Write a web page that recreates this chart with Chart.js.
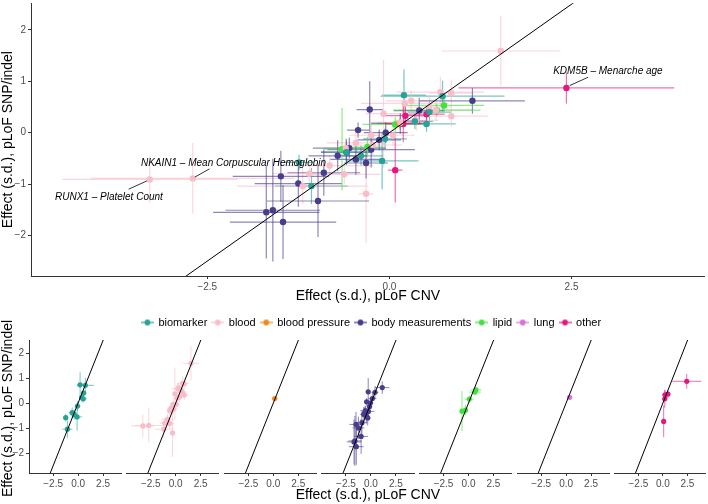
<!DOCTYPE html>
<html><head><meta charset="utf-8">
<script src="https://cdn.jsdelivr.net/npm/chart.js@4.4.0/dist/chart.umd.min.js"></script>
<style>
html,body{margin:0;padding:0;background:#fff;}
#wrap{position:relative;width:708px;height:504px;overflow:hidden;background:#fff;}
canvas{position:absolute;left:0;}
</style></head><body>
<div id="wrap">
<canvas id="main" width="708" height="310" style="top:0px"></canvas>
<canvas id="p0" width="708" height="189" style="top:315px"></canvas>
<canvas id="p1" width="708" height="189" style="top:315px"></canvas>
<canvas id="p2" width="708" height="189" style="top:315px"></canvas>
<canvas id="p3" width="708" height="189" style="top:315px"></canvas>
<canvas id="p4" width="708" height="189" style="top:315px"></canvas>
<canvas id="p5" width="708" height="189" style="top:315px"></canvas>
<canvas id="p6" width="708" height="189" style="top:315px"></canvas>
<canvas id="legend" width="708" height="60" style="top:312px"></canvas>
</div>
<script>
// ---------------- data ----------------
const categories = ['biomarker', 'blood', 'blood pressure', 'body measurements', 'lipid', 'lung', 'other'];
const colors = ['#26a297', '#f8bdc9', '#ef8b1e', '#483d8b', '#3fe43f', '#da70d6', '#e3187f'];

const biomarkerX    = [0.20, 0.73, 0.55, 0.51, 0.35, -0.06, -0.39, -0.10, -0.59, -1.07, -1.24];
const biomarkerY    = [0.73, 0.71, 0.40, 0.17, 0.22, -0.12, -0.45, -0.55, -0.38, -1.04, -0.58];
const biomarkerXErr = [0.30, 0.85, 0.30, 0.40, 0.25, 0.30, 0.30, 0.50, 0.35, 0.50, 0.20];
const biomarkerYErr = [0.50, 0.30, 0.20, 0.15, 0.15, 0.20, 0.20, 0.55, 0.20, 0.35, 0.15];

const bloodX    = [-3.29, -2.70, 1.53, -0.32, -0.08, 0.70, 0.85, 0.85, 0.64, 0.21, 0.37, -0.46, -0.23, -0.62, -0.82, -1.10, -1.19, 0.05, -0.60, 0.15, 0.55, -0.25, 0.30];
const bloodY    = [-0.91, -0.89, 1.59, -1.19, 0.37, 0.79, 0.77, 0.32, 0.44, 0.57, 0.24, -0.20, -0.24, -0.81, -0.64, -0.80, -1.04, -0.05, -0.30, 0.20, 0.50, -0.05, 0.62];
const bloodXErr = [1.20, 1.40, 0.81, 0.10, 0.25, 0.60, 0.30, 0.50, 0.50, 0.60, 0.30, 0.40, 0.40, 0.50, 0.60, 0.50, 0.90, 0.30, 0.30, 0.40, 0.30, 0.30, 0.35];
const bloodYErr = [0.45, 0.69, 0.68, 0.96, 1.05, 0.30, 0.25, 0.20, 0.20, 0.20, 0.20, 0.20, 0.20, 0.20, 0.20, 0.20, 0.35, 0.20, 0.20, 0.15, 0.20, 0.20, 0.20];

const bloodPressureX    = [0.14];
const bloodPressureY    = [0.18];
const bloodPressureXErr = [0.30];
const bloodPressureYErr = [0.10];

const bodyX    = [-1.69, -1.60, -1.46, -1.49, -1.25, -0.98, -0.90, -0.71, -0.59, -0.46, -0.32, -0.25, -0.14, -0.27, -0.43, 0.41, 1.14, -0.55, 0.15, -0.05];
const bodyY    = [-1.55, -1.51, -1.74, -0.85, -0.99, -1.33, -0.78, -0.45, -0.38, -0.52, -0.59, -0.33, -0.14, 0.45, 0.05, 0.43, 0.62, -0.30, 0.18, 0.00];
const bodyXErr = [0.73, 0.65, 0.73, 0.66, 0.60, 0.70, 0.50, 0.40, 0.35, 0.35, 0.30, 0.60, 0.30, 0.18, 0.15, 0.35, 0.72, 0.50, 0.40, 0.30];
const bodyYErr = [0.90, 1.00, 0.72, 0.50, 0.45, 0.70, 0.45, 0.30, 0.25, 0.30, 0.30, 0.35, 0.20, 0.55, 0.15, 0.25, 0.25, 0.20, 0.20, 0.20];

const lipidX    = [-0.65, -0.30, 0.08, 0.75, 0.65];
const lipidY    = [-0.32, -0.28, 0.16, 0.53, 0.44];
const lipidXErr = [0.25, 0.20, 0.45, 0.55, 0.60];
const lipidYErr = [0.80, 0.20, 0.15, 0.12, 0.12];

const lungX    = [0.35];
const lungY    = [0.23];
const lungXErr = [0.15];
const lungYErr = [0.08];

const otherX    = [2.43, 0.08, 0.22, 0.19, 0.51];
const otherY    = [0.87, -0.73, 0.33, 0.17, 0.36];
const otherXErr = [1.48, 0.10, 0.30, 0.25, 0.25];
const otherYErr = [0.30, 0.63, 0.20, 0.35, 0.15];

const xTickValues = [-2.5, 0, 2.5];
const xTickLabels = ['\u22122.5', '0.0', '2.5'];
const yTickValues = [-2, -1, 0, 1, 2];
const yTickLabels = ['\u22122', '\u22121', '0', '1', '2'];
const xRange = [-4.92, 4.33];
const yRange = [-2.79, 2.52];
const identityLineX = [-6, 6];
const identityLineY = [-6, 6];

const xTitle = 'Effect (s.d.), pLoF CNV';
const yTitle = 'Effect (s.d.), pLoF SNP/indel';

const labelTexts = ['NKAIN1 \u2013 Mean Corpuscular Hemoglobin', 'RUNX1 \u2013 Platelet Count', 'KDM5B \u2013 Menarche age'];
const labelAt    = [[-2.14, -0.59], [-3.85, -1.25], [3.0, 1.19]];
const leaderFrom = [[-2.67, -0.865], [-3.58, -1.10], [2.475, 0.917]];
const leaderTo   = [[-2.47, -0.705], [-3.33, -0.94], [2.73, 1.08]];

// ---------------- build ----------------
const series = [
  {x: biomarkerX, y: biomarkerY, xe: biomarkerXErr, ye: biomarkerYErr},
  {x: bloodX, y: bloodY, xe: bloodXErr, ye: bloodYErr},
  {x: bloodPressureX, y: bloodPressureY, xe: bloodPressureXErr, ye: bloodPressureYErr},
  {x: bodyX, y: bodyY, xe: bodyXErr, ye: bodyYErr},
  {x: lipidX, y: lipidY, xe: lipidXErr, ye: lipidYErr},
  {x: lungX, y: lungY, xe: lungXErr, ye: lungYErr},
  {x: otherX, y: otherY, xe: otherXErr, ye: otherYErr}
];

const FONT = "'Liberation Sans', Arial, Helvetica, sans-serif";
Chart.defaults.font.family = FONT;
Chart.defaults.animation = false;

function rgba(hex, a) {
  const n = parseInt(hex.slice(1), 16);
  return `rgba(${(n >> 16) & 255},${(n >> 8) & 255},${n & 255},${a})`;
}

function pointSet(i, r) {
  const s = series[i];
  return {
    type: 'scatter', label: categories[i],
    data: s.x.map((v, j) => ({x: v, y: s.y[j], xe: s.xe[j], ye: s.ye[j]})),
    backgroundColor: colors[i], borderWidth: 0, pointRadius: r, pointHoverRadius: r,
    errColor: rgba(colors[i], 0.62), order: 1
  };
}
function lineSet() {
  return {
    type: 'line', data: identityLineX.map((v, j) => ({x: v, y: identityLineY[j]})),
    borderColor: '#000', borderWidth: 1, pointRadius: 0, fill: false, order: 0
  };
}

function errorBarsPlugin(lw) {
  return {
    id: 'errorBars',
    beforeDatasetsDraw(chart) {
      const {ctx, chartArea: a} = chart;
      const xs = chart.scales.x, ys = chart.scales.y;
      ctx.save();
      ctx.beginPath(); ctx.rect(a.left, a.top, a.right - a.left, a.bottom - a.top); ctx.clip();
      ctx.lineWidth = lw; ctx.lineCap = 'butt';
      chart.data.datasets.forEach(ds => {
        if (!ds.errColor) return;
        ctx.strokeStyle = ds.errColor;
        ds.data.forEach(p => {
          const px = xs.getPixelForValue(p.x), py = ys.getPixelForValue(p.y);
          ctx.beginPath();
          ctx.moveTo(xs.getPixelForValue(p.x - p.xe), py);
          ctx.lineTo(xs.getPixelForValue(p.x + p.xe), py);
          ctx.stroke();
          ctx.beginPath();
          ctx.moveTo(px, ys.getPixelForValue(p.y - p.ye));
          ctx.lineTo(px, ys.getPixelForValue(p.y + p.ye));
          ctx.stroke();
        });
      });
      ctx.restore();
    }
  };
}

const annotatePlugin = {
  id: 'annotate',
  afterDatasetsDraw(chart) {
    const {ctx} = chart;
    const xs = chart.scales.x, ys = chart.scales.y;
    ctx.save();
    ctx.strokeStyle = '#000'; ctx.lineWidth = 0.8;
    ctx.fillStyle = '#000';
    ctx.font = 'italic 10px ' + FONT;
    ctx.textAlign = 'center'; ctx.textBaseline = 'middle';
    labelTexts.forEach((t, i) => {
      ctx.beginPath();
      ctx.moveTo(xs.getPixelForValue(leaderFrom[i][0]), ys.getPixelForValue(leaderFrom[i][1]));
      ctx.lineTo(xs.getPixelForValue(leaderTo[i][0]), ys.getPixelForValue(leaderTo[i][1]));
      ctx.stroke();
      ctx.fillText(t, xs.getPixelForValue(labelAt[i][0]), ys.getPixelForValue(labelAt[i][1]));
    });
    ctx.restore();
  }
};

function xScale(h, showTitle) {
  return {
    type: 'linear', min: xRange[0], max: xRange[1],
    afterBuildTicks: s => { s.ticks = xTickValues.map(v => ({value: v})); },
    afterFit: s => { s.height = h; s.paddingLeft = 0; s.paddingRight = 0; s.paddingTop = 0; s.paddingBottom = 0; },
    ticks: {callback: (v, i) => xTickLabels[i], color: '#4d4d4d', font: {size: 10}, padding: 2, maxRotation: 0, autoSkip: false},
    grid: {display: true, drawOnChartArea: false, drawTicks: true, tickLength: 3, color: '#333', lineWidth: 1},
    border: {display: true, color: '#333', width: 1},
    title: {display: showTitle, text: xTitle, color: '#000', font: {size: 14}, padding: {top: 0, bottom: 5}}
  };
}
function yScale(w, showTitle, show) {
  return {
    type: 'linear', min: yRange[0], max: yRange[1], display: show,
    afterBuildTicks: s => { s.ticks = yTickValues.map(v => ({value: v})); },
    afterFit: s => { s.width = show ? w : 0; s.paddingLeft = 0; s.paddingRight = 0; s.paddingTop = 0; s.paddingBottom = 0; },
    ticks: {callback: (v, i) => yTickLabels[i], color: '#4d4d4d', font: {size: 10}, padding: 2, autoSkip: false},
    grid: {display: true, drawOnChartArea: false, drawTicks: true, tickLength: 3, color: '#333', lineWidth: 1},
    border: {display: true, color: '#333', width: 1},
    title: {display: showTitle, text: yTitle, color: '#000', font: {size: 14, lineHeight: 1.2}, padding: {top: 0, bottom: 0}}
  };
}

// ---------------- main panel ----------------
new Chart(document.getElementById('main'), {
  type: 'scatter',
  data: {datasets: [lineSet(), ...series.map((s, i) => pointSet(i, 3.2))]},
  options: {
    responsive: false, devicePixelRatio: 1, animation: false,
    layout: {padding: {left: 0, right: 2, top: 0, bottom: 0}},
    plugins: {legend: {display: false}, tooltip: {enabled: false}},
    scales: {x: xScale(34, true), y: yScale(31, true, true)}
  },
  plugins: [errorBarsPlugin(1.2), annotatePlugin]
});

// ---------------- legend ----------------
function keyGlyph(color) {
  const c = document.createElement('canvas');
  c.width = 13; c.height = 8;
  const g = c.getContext('2d');
  g.strokeStyle = color; g.lineWidth = 1.2;
  g.beginPath(); g.moveTo(0, 4); g.lineTo(13, 4); g.stroke();
  g.fillStyle = color;
  g.beginPath(); g.arc(6.5, 4, 2.9, 0, Math.PI * 2); g.fill();
  return c;
}
const glyphs = colors.map(keyGlyph);
new Chart(document.getElementById('legend'), {
  type: 'scatter',
  data: {datasets: categories.map((c, i) => ({label: c, data: [], backgroundColor: colors[i]}))},
  options: {
    responsive: false, devicePixelRatio: 1, animation: false,
    layout: {padding: {left: 35, right: 0, top: 0, bottom: 0}},
    scales: {x: {display: false}, y: {display: false}},
    plugins: {
      tooltip: {enabled: false},
      legend: {
        position: 'top',
        labels: {
          usePointStyle: true, boxWidth: 12, boxHeight: 8, padding: 5, color: '#000', font: {size: 11},
          generateLabels: () => categories.map((c, i) => ({
            text: c, pointStyle: glyphs[i], fillStyle: colors[i], strokeStyle: colors[i],
            lineWidth: 0, hidden: false, datasetIndex: i, fontColor: '#000'
          }))
        }
      }
    }
  }
});

// ---------------- small multiples ----------------
const panelStep = 97.6, panelW = 92.3, panel0 = 29;
function textPlugin(kind) {
  return {
    id: 'facetText' + kind,
    afterDraw(chart) {
      const {ctx, chartArea: a} = chart;
      ctx.save();
      ctx.fillStyle = '#000';
      ctx.font = '14px ' + FONT;
      ctx.textAlign = 'center'; ctx.textBaseline = 'middle';
      if (kind === 'x') {
        ctx.fillText(xTitle, (a.left + a.right) / 2, chart.height - 9);
      } else {
        ctx.translate(8.4, (a.top + a.bottom) / 2 + 2);
        ctx.rotate(-Math.PI / 2);
        ctx.fillText(yTitle, 0, 0);
      }
      ctx.restore();
    }
  };
}
series.forEach((s, k) => {
  const left = panel0 + k * panelStep;
  const right = 708 - (left + panelW);
  const plugins = [errorBarsPlugin(1.0)];
  if (k === 0) plugins.push(textPlugin('y'));
  if (k === 3) plugins.push(textPlugin('x'));
  new Chart(document.getElementById('p' + k), {
    type: 'scatter',
    data: {datasets: [lineSet(), pointSet(k, 2.6)]},
    options: {
      responsive: false, devicePixelRatio: 1, animation: false,
      layout: {padding: {left: k === 0 ? 0 : left, right: right, top: 25, bottom: 0}},
      plugins: {legend: {display: false}, tooltip: {enabled: false}},
      scales: {x: xScale(31, false), y: yScale(29, false, k === 0)}
    },
    plugins: plugins
  });
});
</script>
</body></html>
